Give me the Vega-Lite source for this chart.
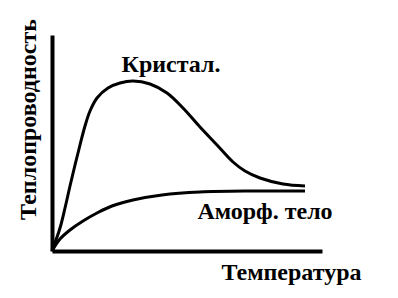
{
  "$schema": "https://vega.github.io/schema/vega-lite/v6.json",
  "width": 270,
  "height": 216,
  "autosize": "none",
  "padding": {"left": 52, "top": 35, "right": 76, "bottom": 47},
  "background": "white",
  "config": {"view": {"stroke": null}, "font": "Liberation Serif"},
  "datasets": {
    "curves": [
      {"series": "Кристал.", "t": 0, "k": 0},
      {"series": "Кристал.", "t": 8, "k": 23},
      {"series": "Кристал.", "t": 13, "k": 43},
      {"series": "Кристал.", "t": 18, "k": 65},
      {"series": "Кристал.", "t": 23, "k": 86},
      {"series": "Кристал.", "t": 28, "k": 106},
      {"series": "Кристал.", "t": 33, "k": 125},
      {"series": "Кристал.", "t": 38, "k": 140},
      {"series": "Кристал.", "t": 45, "k": 153},
      {"series": "Кристал.", "t": 56, "k": 163},
      {"series": "Кристал.", "t": 68, "k": 168},
      {"series": "Кристал.", "t": 81, "k": 170},
      {"series": "Кристал.", "t": 98, "k": 167},
      {"series": "Кристал.", "t": 115, "k": 158},
      {"series": "Кристал.", "t": 131, "k": 143},
      {"series": "Кристал.", "t": 148, "k": 124},
      {"series": "Кристал.", "t": 165, "k": 106},
      {"series": "Кристал.", "t": 181, "k": 89},
      {"series": "Кристал.", "t": 193, "k": 80},
      {"series": "Кристал.", "t": 208, "k": 73},
      {"series": "Кристал.", "t": 231, "k": 67},
      {"series": "Кристал.", "t": 253, "k": 65},
      {"series": "Аморф. тело", "t": 0, "k": 0},
      {"series": "Аморф. тело", "t": 8, "k": 12},
      {"series": "Аморф. тело", "t": 18, "k": 21},
      {"series": "Аморф. тело", "t": 31, "k": 30},
      {"series": "Аморф. тело", "t": 45, "k": 38},
      {"series": "Аморф. тело", "t": 60, "k": 45},
      {"series": "Аморф. тело", "t": 81, "k": 51},
      {"series": "Аморф. тело", "t": 110, "k": 56},
      {"series": "Аморф. тело", "t": 148, "k": 59},
      {"series": "Аморф. тело", "t": 200, "k": 60},
      {"series": "Аморф. тело", "t": 253, "k": 60}
    ],
    "labels": [
      {"label": "Кристал.", "t": 119, "k": 186},
      {"label": "Аморф. тело", "t": 213, "k": 39}
    ]
  },
  "layer": [
    {
      "data": {"name": "curves"},
      "mark": {"type": "line", "interpolate": "catmull-rom", "color": "black", "strokeWidth": 3},
      "encoding": {
        "x": {
          "field": "t", "type": "quantitative",
          "scale": {"domain": [0, 270], "nice": false, "zero": false},
          "axis": {
            "title": "Температура", "grid": false, "ticks": false, "labels": false,
            "domainColor": "black", "domainWidth": 4,
            "titleFont": "Liberation Serif", "titleFontSize": 24, "titleFontWeight": "bold", "titleColor": "black",
            "titleX": 239, "titleY": 21, "titleAlign": "center", "titleBaseline": "middle"
          }
        },
        "y": {
          "field": "k", "type": "quantitative",
          "scale": {"domain": [0, 216], "nice": false, "zero": false},
          "axis": {
            "title": "Теплопроводность", "grid": false, "ticks": false, "labels": false,
            "domainColor": "black", "domainWidth": 4,
            "titleFont": "Liberation Serif", "titleFontSize": 24, "titleFontWeight": "bold", "titleColor": "black",
            "titleAngle": 270, "titleX": -24, "titleY": 84, "titleAlign": "center", "titleBaseline": "middle"
          }
        },
        "detail": {"field": "series"}
      }
    },
    {
      "data": {"name": "labels"},
      "mark": {"type": "text", "font": "Liberation Serif", "fontSize": 24, "fontWeight": "bold", "color": "black", "align": "center", "baseline": "middle"},
      "encoding": {
        "x": {"field": "t", "type": "quantitative"},
        "y": {"field": "k", "type": "quantitative"},
        "text": {"field": "label"}
      }
    }
  ]
}
